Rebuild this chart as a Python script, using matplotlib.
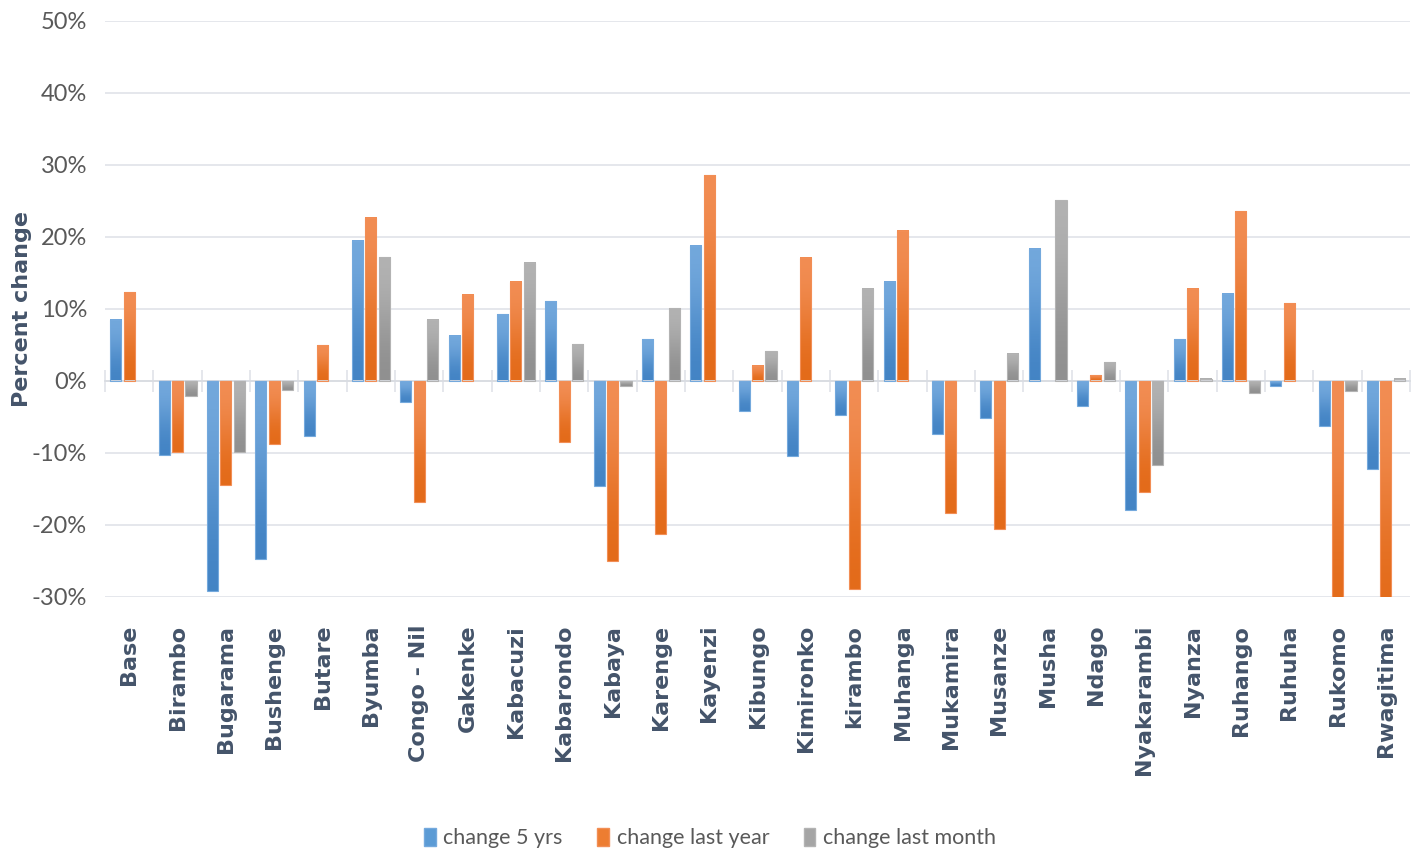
import matplotlib
matplotlib.use("Agg")
import matplotlib.pyplot as plt
from matplotlib.patches import Patch
from matplotlib.colors import LinearSegmentedColormap
import numpy as np

markets = ["Base", "Birambo", "Bugarama", "Bushenge", "Butare", "Byumba",
           "Congo - Nil", "Gakenke", "Kabacuzi", "Kabarondo", "Kabaya",
           "Karenge", "Kayenzi", "Kibungo", "Kimironko", "kirambo", "Muhanga",
           "Mukamira", "Musanze", "Musha", "Ndago", "Nyakarambi", "Nyanza",
           "Ruhango", "Ruhuha", "Rukomo", "Rwagitima"]

# percent values (nan = no bar)
change_5yrs = [8.5, -10.3, -29.2, -24.7, -7.6, 19.5, -2.9, 6.3, 9.3, 11.1,
               -14.6, 5.8, 18.8, -4.2, -10.4, -4.7, 13.8, -7.4, -5.1, 18.4,
               -3.5, -17.9, 5.8, 12.1, -0.65, -6.2, -12.2]
change_last_year = [12.3, -9.9, -14.5, -8.8, 5.0, 22.7, -16.8, 12.0, 13.8,
                    -8.5, -25.0, -21.2, 28.6, 2.1, 17.1, -28.9, 20.9, -18.4,
                    -20.5, np.nan, 0.8, -15.4, 12.8, 23.6, 10.8, -33.0, -33.0]
change_last_month = [np.nan, -2.1, -9.9, -1.2, np.nan, 17.2, 8.5, np.nan, 16.4,
                     5.1, -0.65, 10.1, np.nan, 4.1, np.nan, 12.8, np.nan,
                     np.nan, 3.8, 25.1, 2.6, -11.7, 0.3, -1.7, np.nan, -1.4, 0.3]

series = [("change 5 yrs", change_5yrs, "#5B9BD5", "#74A9DD", "#4283C4"),
          ("change last year", change_last_year, "#ED7D31", "#F28E55", "#E36A18"),
          ("change last month", change_last_month, "#A5A5A5", "#B3B3B3", "#8F8F8F")]

narrow = ["Lato", "DejaVu Sans"]
label_col = "#44546A"
tick_col = "#595959"
grid_col = "#E3E5EA"

fig = plt.figure(figsize=(14.2, 8.57), dpi=100)
ax = fig.add_axes([0.074, 0.3034, 0.919, 0.6721])

x = np.arange(len(markets))
width = 0.23
step = 0.278

for i, (name, vals, col, light, dark) in enumerate(series):
    bars = ax.bar(x + (i - 1) * step, vals, width, facecolor="none",
                  edgecolor=light, linewidth=0.8, zorder=3)
    cmap = LinearSegmentedColormap.from_list(name, [dark, light])
    for b in bars:
        if np.isnan(b.get_height()):
            continue
        x0, y0 = b.get_x(), b.get_y()
        x1, y1 = x0 + b.get_width(), y0 + b.get_height()
        im = ax.imshow([[1.0], [0.0]], cmap=cmap, aspect="auto",
                       extent=[x0, x1, min(y0, y1), max(y0, y1)],
                       interpolation="bicubic", zorder=2, vmin=0, vmax=1)
        im.set_clip_path(b)
        im.set_clip_box(ax.bbox)

ax.set_xlim(-0.5, len(markets) - 0.5)
ax.set_ylim(-30, 50)
ax.set_yticks(np.arange(-30, 51, 10))
ax.set_yticklabels([f"{v}%" for v in range(-30, 51, 10)],
                   family=narrow, fontsize=17, color=tick_col)
ax.tick_params(axis="y", length=0, pad=13)
ax.grid(axis="y", color=grid_col, linewidth=1.3, zorder=0)
ax.set_axisbelow(True)

for s in ["top", "right", "left"]:
    ax.spines[s].set_visible(False)
ax.spines["bottom"].set_position(("data", 0))
ax.spines["bottom"].set_color("#D9DCE2")
ax.spines["bottom"].set_linewidth(1.3)
ax.set_xticks(np.arange(len(markets) + 1) - 0.5)
ax.set_xticklabels([])
ax.tick_params(axis="x", direction="inout", length=16, width=1.3,
               color="#E3E5EA")

sec = ax.secondary_xaxis("bottom")
sec.set_xticks(x)
sec.set_xticklabels(markets, rotation=90, fontsize=16, fontweight="bold",
                    color=label_col, va="top")
sec.tick_params(length=0, pad=20)
sec.spines["bottom"].set_visible(False)

ax.set_ylabel("Percent change", fontsize=16, fontweight="bold",
              color=label_col)
ax.yaxis.set_label_coords(-0.056, 0.50)

handles = [Patch(facecolor=c, edgecolor=l) for _, _, c, l, _ in series]
fig.legend(handles, [s[0] for s in series], loc="center",
           bbox_to_anchor=(0.5, 0.022), ncol=3, frameon=False,
           prop={"family": narrow, "size": 15.5}, labelcolor=tick_col,
           handlelength=0.55, handleheight=0.9, handletextpad=0.35,
           columnspacing=1.6)

fig.savefig("out.png", dpi=100)
